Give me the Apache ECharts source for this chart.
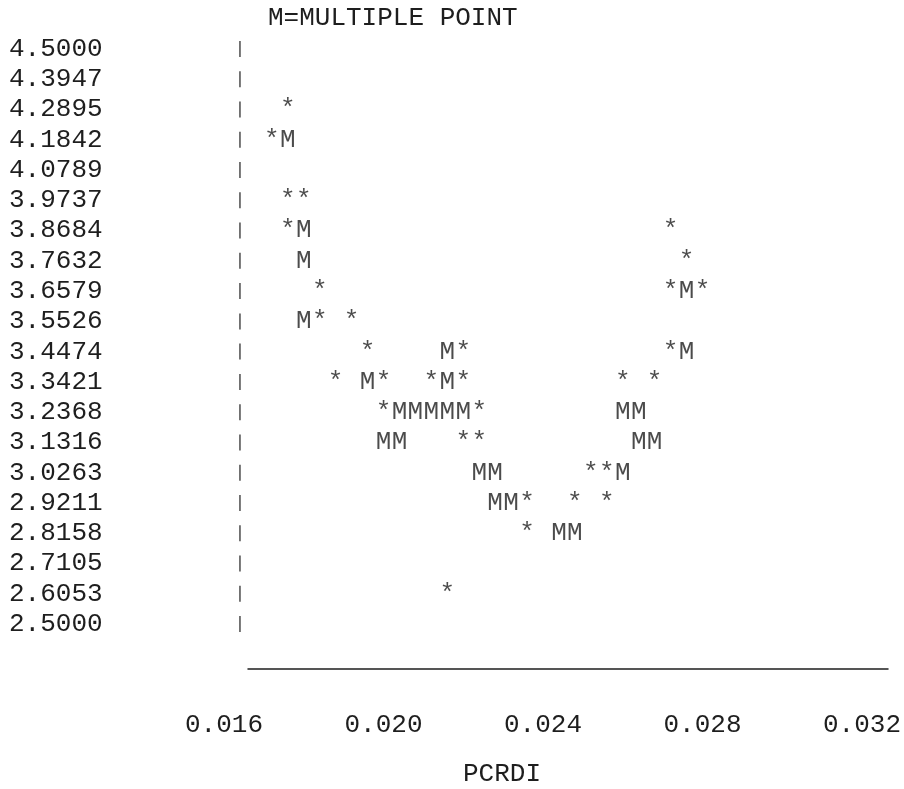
<!DOCTYPE html>
<html>
<head>
<meta charset="utf-8">
<script src="https://cdn.jsdelivr.net/npm/echarts@6/dist/echarts.min.js"></script>
<style>html,body{margin:0;padding:0;background:#fff;}#c{width:904px;height:789px;}</style>
</head>
<body>
<div id="c"></div>
<script>
// Tick labels
const yTicks = [4.5000, 4.3947, 4.2895, 4.1842, 4.0789, 3.9737, 3.8684, 3.7632, 3.6579, 3.5526,
                3.4474, 3.3421, 3.2368, 3.1316, 3.0263, 2.9211, 2.8158, 2.7105, 2.6053, 2.5000];
const xTicks = [0.016, 0.020, 0.024, 0.028, 0.032];
const axisMarkX = 0.0164;

// Single points ('*')
const singleX = [0.0176, 0.0172, 0.0176, 0.0180, 0.0176, 0.0272, 0.0276, 0.0184, 0.0272, 0.0280,
                 0.0184, 0.0192, 0.0196, 0.0220, 0.0272, 0.0188, 0.0200, 0.0212, 0.0220, 0.0260,
                 0.0268, 0.0200, 0.0224, 0.0220, 0.0224, 0.0252, 0.0256, 0.0236, 0.0248, 0.0256,
                 0.0236, 0.0216];
const singleY = [4.2895, 4.1842, 3.9737, 3.9737, 3.8684, 3.8684, 3.7632, 3.6579, 3.6579, 3.6579,
                 3.5526, 3.5526, 3.4474, 3.4474, 3.4474, 3.3421, 3.3421, 3.3421, 3.3421, 3.3421,
                 3.3421, 3.2368, 3.2368, 3.1316, 3.1316, 3.0263, 3.0263, 2.9211, 2.9211, 2.9211,
                 2.8158, 2.6053];

// Multiple points ('M')
const multiX = [0.0176, 0.0180, 0.0180, 0.0276, 0.0180, 0.0216, 0.0276, 0.0196, 0.0216,
                0.0204, 0.0208, 0.0212, 0.0216, 0.0220, 0.0260, 0.0264,
                0.0200, 0.0204, 0.0264, 0.0268, 0.0224, 0.0228, 0.0260,
                0.0228, 0.0232, 0.0244, 0.0248];
const multiY = [4.1842, 3.8684, 3.7632, 3.6579, 3.5526, 3.4474, 3.4474, 3.3421, 3.3421,
                3.2368, 3.2368, 3.2368, 3.2368, 3.2368, 3.2368, 3.2368,
                3.1316, 3.1316, 3.1316, 3.1316, 3.0263, 3.0263, 3.0263,
                2.9211, 2.9211, 2.8158, 2.8158];

const FONT = '"Liberation Mono", "DejaVu Sans Mono", monospace';
const INK = '#1e1e1e';

const zip = (xs, ys) => xs.map((x, i) => [x, ys[i]]);

const chart = echarts.init(document.getElementById('c'), null, {renderer: 'canvas'});
chart.setOption({
  animation: false,
  backgroundColor: '#fff',
  title: [
    {text: 'M=MULTIPLE POINT', left: 263, top: 0,
     textStyle: {fontFamily: FONT, fontSize: 26, fontWeight: 'normal', color: INK}},
    {text: 'PCRDI', left: 458, top: 756,
     textStyle: {fontFamily: FONT, fontSize: 26, fontWeight: 'normal', color: INK}}
  ],
  grid: [
    {left: 224, right: 41, top: 49, bottom: 165, containLabel: false},
    {left: 248, right: 16, top: 600, height: 69, containLabel: false}
  ],
  xAxis: [
    {type: 'value', gridIndex: 0, min: 0.016, max: 0.032, interval: 0.004,
     axisLine: {show: false}, axisTick: {show: false}, splitLine: {show: false},
     axisLabel: {margin: 101, verticalAlign: 'middle', fontFamily: FONT, fontSize: 26, color: INK,
                 showMinLabel: true, showMaxLabel: true,
                 formatter: v => v.toFixed(3)}},
    {type: 'value', gridIndex: 1, min: 0, max: 1,
     axisLine: {show: true, lineStyle: {color: INK, width: 1.5}},
     axisTick: {show: false}, axisLabel: {show: false}, splitLine: {show: false}}
  ],
  yAxis: [
    {type: 'value', gridIndex: 0, min: 2.5, max: 4.5,
     axisLine: {show: false}, axisTick: {show: false}, splitLine: {show: false},
     axisLabel: {customValues: yTicks, align: 'left', margin: 215, fontFamily: FONT, fontSize: 26,
                 color: INK, formatter: v => v.toFixed(4)}},
    {type: 'value', gridIndex: 1, show: false, min: 0, max: 1}
  ],
  series: [
    {name: 'axis', type: 'scatter', xAxisIndex: 0, yAxisIndex: 0,
     data: yTicks.map(y => [axisMarkX, y]),
     symbol: 'rect', symbolSize: [1.8, 16], itemStyle: {color: '#444'}, silent: true},
    {name: 'single', type: 'scatter', xAxisIndex: 0, yAxisIndex: 0,
     data: zip(singleX, singleY),
     symbolSize: 4, itemStyle: {color: 'rgba(0,0,0,0)'},
     label: {show: true, position: 'inside', formatter: '*', fontFamily: FONT, fontSize: 26, color: INK}},
    {name: 'multiple', type: 'scatter', xAxisIndex: 0, yAxisIndex: 0,
     data: zip(multiX, multiY),
     symbolSize: 4, itemStyle: {color: 'rgba(0,0,0,0)'},
     label: {show: true, position: 'inside', formatter: 'M', fontFamily: FONT, fontSize: 26, color: INK}}
  ]
});
</script>
</body>
</html>
